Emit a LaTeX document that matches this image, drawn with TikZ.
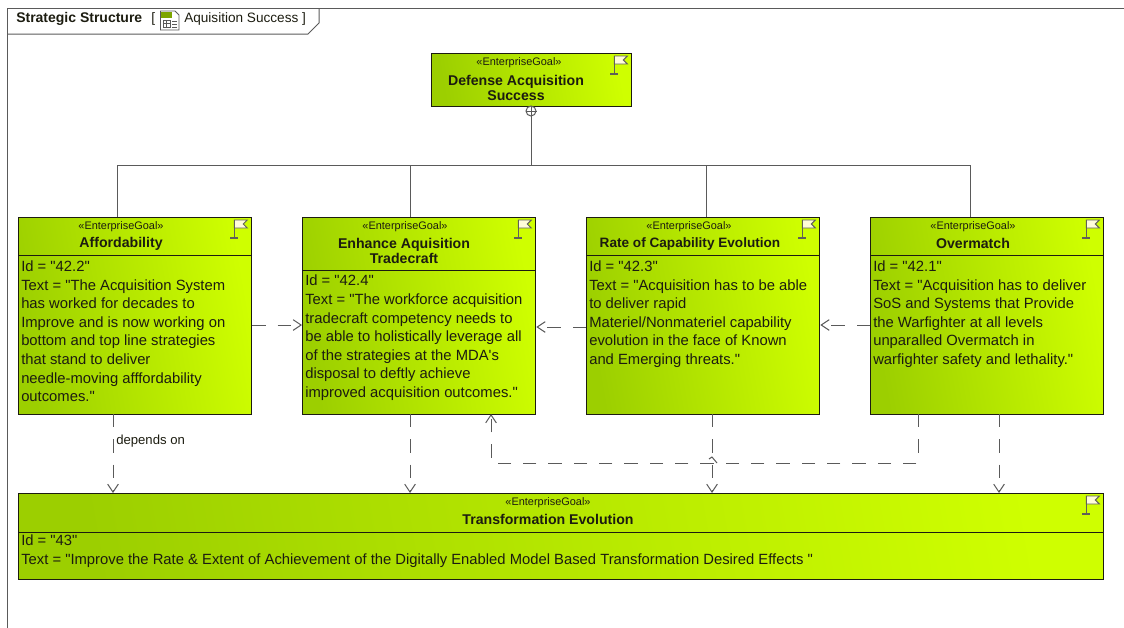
\documentclass[tikz,border=0pt]{standalone}
\usepackage{fontspec}
\setmainfont[Ligatures=TeXOff]{Liberation Sans}
\usepackage{xcolor}
\usetikzlibrary{arrows.meta,calc}
\definecolor{goaldark}{HTML}{9CCF00}
\definecolor{goallight}{HTML}{CFFF00}
\definecolor{framegray}{HTML}{5A5A5A}
\definecolor{inkdark}{HTML}{1C1C10}
\tikzset{
	goalbox/.style={
			draw=inkdark, line width=1pt, inner sep=0pt, left color=goaldark, right color=goallight,
			shading angle=100, minimum width=#1*0.75pt, anchor=north west
		},
	stereotype/.style={font=\fontsize{8.2}{9}\selectfont, text=inkdark, inner sep=0pt},
	goalname/.style={font=\fontsize{10.6}{11.2}\selectfont\bfseries, text=inkdark, align=center, inner sep=0pt},
	goalbody/.style={font=\fontsize{11.1}{13.95}\selectfont, text=inkdark, align=left, inner sep=0pt, anchor=north west},
	depends/.style={draw=framegray, line width=0.75pt, dash pattern=on 10pt off 9pt, -{Straight Barb[length=6pt,width=8pt]}},
	solidline/.style={draw=framegray, line width=0.75pt},
	pics/goalflag/.style={
			code={
					\draw[inkdark!70, line width=0.7pt, fill=yellow!15] (-18,3) -- (-5,3) -- (-9,7) -- (-5,11) -- (-18,11) -- cycle;
					\draw[inkdark!70, line width=0.8pt] (-18,3) -- (-18,21) (-22,21) -- (-14,21);
				}
		}
}

\begin{document}
\begin{tikzpicture}[x=0.75pt,y=-0.75pt]
	\useasboundingbox (0,0) rectangle (1124,628);
	% Frame
	\draw[solidline] (7,628) -- (7,8) -- (1124,8);
	\draw[solidline] (7,34) -- (308,34) -- (319,23) -- (319,8);
	\node[anchor=west, inner sep=0pt, font=\fontsize{10.5}{12}\selectfont\bfseries, text=inkdark] (frametitle) at (16,18.5) {Strategic Structure};
	\node[anchor=west, inner sep=0pt, font=\fontsize{10.2}{12}\selectfont, text=inkdark] (frameopen) at (151,18.5) {[};
	\node[anchor=west, inner sep=0pt, font=\fontsize{10.2}{12}\selectfont, text=inkdark] (framename) at (184,18.5) {Aquisition Success ]};
	% Frame icon
	\draw[framegray, fill=white, line width=0.6pt] (160.5,11) -- (175,11) -- (179,15) -- (179,30) -- (160.5,30) -- cycle;
	\fill[goaldark!80!black] (161,11.5) rectangle (172,18);
	\draw[framegray, line width=0.6pt] (163,20) rectangle (170,27) (163,23.5) -- (170,23.5) (166.5,20) -- (166.5,27) (172,21) -- (177,21) (172,24) -- (177,24) (172,27) -- (177,27);
	% Top goal
	\node[goalbox=200, minimum height=53*0.75pt] (success) at (431,53) {};
	\pic at (success.north east) {goalflag};
	\node[stereotype] (successtype) at (519,62.5) {«EnterpriseGoal»};
	\node[goalname] (successname) at (516,87.5) {Defense Acquisition\\Success};
	% Goals
	\node[goalbox=233, minimum height=197*0.75pt] (afford) at (18,217) {};
	\node[goalbox=233, minimum height=197*0.75pt] (enhance) at (302,217) {};
	\node[goalbox=233, minimum height=197*0.75pt] (rate) at (586,217) {};
	\node[goalbox=233, minimum height=197*0.75pt] (overmatch) at (870,217) {};
	\node[goalbox=1085, minimum height=86*0.75pt] (transform) at (18,493) {};
	\foreach \goal in {afford,enhance,rate,overmatch,transform} {
			\pic at (\goal.north east) {goalflag};
		}
	% Dividers
	\draw[inkdark, line width=0.75pt] (afford.west |- 0,255) -- (afford.east |- 0,255);
	\draw[inkdark, line width=0.75pt] (enhance.west |- 0,270) -- (enhance.east |- 0,270);
	\draw[inkdark, line width=0.75pt] (rate.west |- 0,255) -- (rate.east |- 0,255);
	\draw[inkdark, line width=0.75pt] (overmatch.west |- 0,255) -- (overmatch.east |- 0,255);
	\draw[inkdark, line width=0.75pt] (transform.west |- 0,532) -- (transform.east |- 0,532);
	% Titles
	\node[stereotype] (affordtype) at (121,226.5) {«EnterpriseGoal»};
	\node[goalname] (affordname) at (121,243.5) {Affordability};
	\node[stereotype] (enhancetype) at (405,226.5) {«EnterpriseGoal»};
	\node[goalname] (enhancename) at (404,251) {Enhance Aquisition\\Tradecraft};
	\node[stereotype] (ratetype) at (689,226.5) {«EnterpriseGoal»};
	\node[goalname, font=\fontsize{10.2}{11.2}\selectfont\bfseries] (ratename) at (690,243.5) {Rate of Capability Evolution};
	\node[stereotype] (overmatchtype) at (973,226.5) {«EnterpriseGoal»};
	\node[goalname] (overmatchname) at (973,243.5) {Overmatch};
	\node[stereotype] (transformtype) at (548,502.5) {«EnterpriseGoal»};
	\node[goalname] (transformname) at (548,519.5) {Transformation Evolution};
	% Texts
	\node[goalbody] (affordbody) at (21,260.5) {Id = "42.2"\\Text = "The Acquisition System\\has worked for decades to\\Improve and is now working on\\bottom and top line strategies\\that stand to deliver\\needle-moving afffordability\\outcomes."};
	\node[goalbody] (enhancebody) at (305,275) {Id = "42.4"\\Text = "The workforce acquisition\\tradecraft competency needs to\\be able to holistically leverage all\\of the strategies at the MDA's\\disposal to deftly achieve\\improved acquisition outcomes."};
	\node[goalbody] (ratebody) at (589,260.5) {Id = "42.3"\\Text = "Acquisition has to be able\\to deliver rapid\\Materiel/Nonmateriel capability\\evolution in the face of Known\\and Emerging threats."};
	\node[goalbody] (overmatchbody) at (873,260.5) {Id = "42.1"\\Text = "Acquisition has to deliver\\SoS and Systems that Provide\\the Warfighter at all levels\\unparalled Overmatch in\\warfighter safety and lethality."};
	\node[goalbody] (transformbody) at (21,535) {Id = "43"\\Text = "Improve the Rate \& Extent of Achievement of the Digitally Enabled Model Based Transformation Desired Effects "};
	% Composition tree
	\coordinate (treehub) at (531,165);
	\node[circle, draw=framegray, line width=0.75pt, fill=white, minimum size=10*0.75pt, inner sep=0pt] (treeknob) at (531,111) {};
	\draw[framegray, line width=0.75pt] (treeknob.north) -- (treeknob.south) (treeknob.west) -- (treeknob.east);
	\draw[solidline] (treeknob.south) -- (treehub);
	\coordinate (treeafford) at (117,217);
	\coordinate (treeenhance) at (410,217);
	\coordinate (treerate) at (706,217);
	\coordinate (treeover) at (970,217);
	\draw[solidline] (treeafford) -- (treeafford |- treehub) -- (treeover |- treehub) -- (treeover);
	\draw[solidline] (treeenhance) -- (treeenhance |- treehub);
	\draw[solidline] (treerate) -- (treerate |- treehub);
	% Dependencies between goals
	\draw[depends] (afford.east |- 0,325) -- (enhance.west |- 0,325);
	\draw[depends] (rate.west |- 0,327) -- (enhance.east |- 0,327);
	\draw[depends] (overmatch.west |- 0,325) -- (rate.east |- 0,325);
	% Dependencies down to the bottom goal
	\coordinate (affordout) at (113,414);
	\coordinate (enhanceout) at (410,414);
	\coordinate (rateout) at (712,414);
	\coordinate (overmatchout) at (999,414);
	\draw[depends] (affordout) -- (affordout |- transform.north);
	\node[anchor=west, inner sep=0pt, font=\fontsize{9.85}{11}\selectfont, text=inkdark] (dependslabel) at (116,441.5) {depends on};
	\draw[depends] (enhanceout) -- (enhanceout |- transform.north);
	\draw[depends] (rateout) -- (rateout |- transform.north);
	\draw[depends] (overmatchout) -- (overmatchout |- transform.north);
	% Overmatch back to Enhance
	\coordinate (crossout) at (918,414);
	\coordinate (crossin) at (491,414);
	\draw[depends] (crossout) -- (918,463) -- (491,463) -- (crossin);
	\draw[solidline] (709,459) -- (712,457) -- (717,463);
\end{tikzpicture}
\end{document}
